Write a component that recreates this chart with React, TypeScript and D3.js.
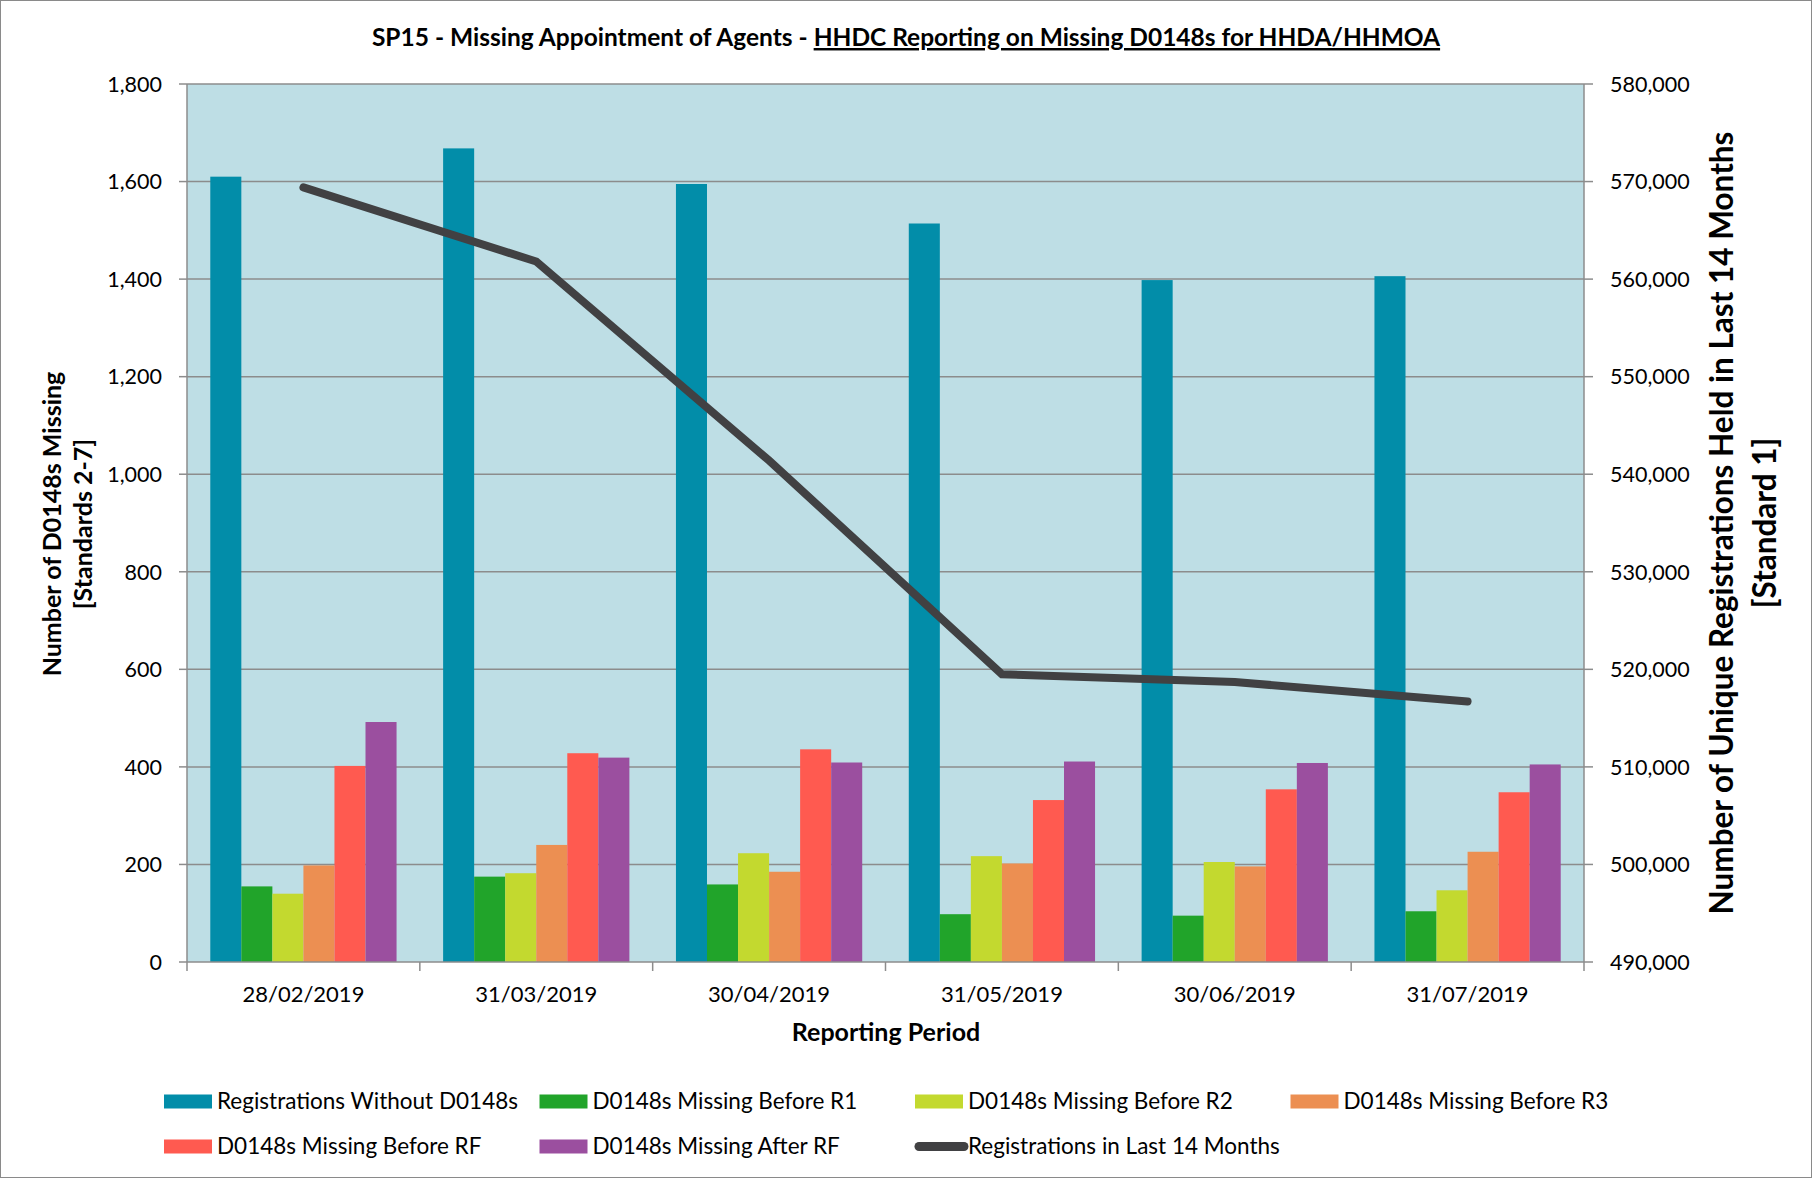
import React from 'react'
import * as d3 from 'd3'

const periods = ['28/02/2019', '31/03/2019', '30/04/2019', '31/05/2019', '30/06/2019', '31/07/2019']

const seriesNames = [
  'Registrations Without D0148s',
  'D0148s Missing Before R1',
  'D0148s Missing Before R2',
  'D0148s Missing Before R3',
  'D0148s Missing Before RF',
  'D0148s Missing After RF',
]
const seriesColors = ['#028DA9', '#21A42A', '#C3D92F', '#EC8F52', '#FF5A50', '#9B4F9F']

const withoutD0148 = [1610, 1668, 1595, 1514, 1398, 1406]
const missingR1 = [155, 175, 159, 98, 95, 104]
const missingR2 = [140, 182, 223, 217, 205, 147]
const missingR3 = [198, 240, 185, 202, 196, 226]
const missingRF = [402, 428, 436, 332, 354, 348]
const missingAfterRF = [492, 419, 409, 411, 408, 405]
const barSeries = [withoutD0148, missingR1, missingR2, missingR3, missingRF, missingAfterRF]

const lineName = 'Registrations in Last 14 Months'
const registrations14m = [569400, 561800, 541400, 519500, 518700, 516700]

const leftTicks = [0, 200, 400, 600, 800, 1000, 1200, 1400, 1600, 1800]
const rightTicks = [490000, 500000, 510000, 520000, 530000, 540000, 550000, 560000, 570000, 580000]

const W = 1812
const H = 1178
const plot = { left: 187, right: 1584, top: 84, bottom: 962 }
const fmt = d3.format(',')
const calibri = 'Lato, "Open Sans", sans-serif'

export default function App() {
  const x = d3.scaleBand<string>().domain(periods).range([plot.left, plot.right])
  // Excel gap width 150%: 6 bars + 1.5 bar-widths of gap per category
  const barW = x.bandwidth() / (barSeries.length + 1.5)
  const yL = d3.scaleLinear().domain([0, 1800]).range([plot.bottom, plot.top])
  const yR = d3.scaleLinear().domain([490000, 580000]).range([plot.bottom, plot.top])

  const line = d3
    .line<number>()
    .x((_, i) => (x(periods[i]) as number) + x.bandwidth() / 2)
    .y((v) => yR(v))

  const legendItems = [
    ...seriesNames.map((name, i) => ({ name, color: seriesColors[i], isLine: false })),
    { name: lineName, color: '#414143', isLine: true },
  ]

  return (
    <svg
      width={W}
      height={H}
      style={{ position: 'absolute', left: 0, top: 0, background: '#fff', whiteSpace: 'pre' }}
    >
      <rect x={0.5} y={0.5} width={W - 1} height={H - 1} fill="#fff" stroke="#8a8a8a" />

      <text
        x={906}
        y={46}
        textAnchor="middle"
        fontFamily={calibri}
        fontWeight="bold"
        fontSize={24.5}
        fill="#000"
      >
        <tspan>SP15 - Missing Appointment of Agents - </tspan>
        <tspan textDecoration="underline">HHDC Reporting on Missing D0148s  for HHDA/HHMOA</tspan>
      </text>

      <rect
        x={plot.left}
        y={plot.top}
        width={plot.right - plot.left}
        height={plot.bottom - plot.top}
        fill="#BEDEE5"
      />

      {leftTicks.map((t) => (
        <g key={'g' + t}>
          {t > 0 && (
            <line x1={plot.left} x2={plot.right} y1={yL(t)} y2={yL(t)} stroke="#8c8c8c" strokeWidth={1.5} />
          )}
          <line x1={plot.left - 8} x2={plot.left} y1={yL(t)} y2={yL(t)} stroke="#8c8c8c" strokeWidth={1.5} />
          <text
            x={plot.left - 25}
            y={yL(t)}
            dy="0.36em"
            textAnchor="end"
            fontFamily={calibri}
            fontSize={21.5}
            fill="#000"
          >
            {fmt(t)}
          </text>
        </g>
      ))}

      {rightTicks.map((t) => (
        <g key={'r' + t}>
          <line x1={plot.right} x2={plot.right + 9} y1={yR(t)} y2={yR(t)} stroke="#8c8c8c" strokeWidth={1.5} />
          <text
            x={plot.right + 26}
            y={yR(t)}
            dy="0.36em"
            textAnchor="start"
            fontFamily={calibri}
            fontSize={21.5}
            fill="#000"
          >
            {fmt(t)}
          </text>
        </g>
      ))}

      {barSeries.map((vals, s) =>
        vals.map((v, i) => (
          <rect
            key={`b${s}-${i}`}
            x={(x(periods[i]) as number) + barW * 0.75 + s * barW}
            y={yL(v)}
            width={barW}
            height={yL(0) - yL(v)}
            fill={seriesColors[s]}
          />
        )),
      )}

      <line x1={plot.left} x2={plot.left} y1={plot.top} y2={plot.bottom} stroke="#8c8c8c" strokeWidth={1.5} />
      <line x1={plot.right} x2={plot.right} y1={plot.top} y2={plot.bottom} stroke="#8c8c8c" strokeWidth={1.5} />
      <line x1={plot.left} x2={plot.right} y1={plot.bottom} y2={plot.bottom} stroke="#8c8c8c" strokeWidth={1.5} />

      {periods.map((p, i) => (
        <g key={p}>
          <line
            x1={x(p) as number}
            x2={x(p) as number}
            y1={plot.bottom}
            y2={plot.bottom + 9}
            stroke="#8c8c8c"
            strokeWidth={1.5}
          />
          {i === periods.length - 1 && (
            <line x1={plot.right} x2={plot.right} y1={plot.bottom} y2={plot.bottom + 9} stroke="#8c8c8c" strokeWidth={1.5} />
          )}
          <text
            x={(x(p) as number) + x.bandwidth() / 2}
            y={1002}
            textAnchor="middle"
            fontFamily={calibri}
            fontSize={22}
            fill="#000"
          >
            {p}
          </text>
        </g>
      ))}

      <path
        d={line(registrations14m) ?? ''}
        fill="none"
        stroke="#414143"
        strokeWidth={8}
        strokeLinecap="round"
        strokeLinejoin="miter"
      />

      <text
        x={886}
        y={1041}
        textAnchor="middle"
        fontFamily={calibri}
        fontWeight="bold"
        fontSize={25}
      >
        Reporting Period
      </text>

      <g transform="translate(52,524) rotate(-90)" fontFamily={calibri}>
        <text x={0} y={9} textAnchor="middle" fontWeight="bold" fontSize={25}>Number of D0148s  Missing</text>
        <text x={0} y={40} textAnchor="middle" fontWeight="bold" fontSize={25}>[Standards 2-7]</text>
      </g>

      <g transform="translate(1722,523) rotate(-90)" fontFamily={calibri}>
        <text x={0} y={11} textAnchor="middle" fontWeight="bold" fontSize={31.5}>
          Number of Unique Registrations  Held in Last 14 Months
        </text>
        <text x={0} y={54} textAnchor="middle" fontWeight="bold" fontSize={31.5}>[Standard  1]</text>
      </g>

      {legendItems.map((it, i) => {
        const col = i % 4
        const row = Math.floor(i / 4)
        const lx = 164 + col * 375.5
        const ly = 1101.5 + row * 45
        return (
          <g key={it.name}>
            {it.isLine ? (
              <line
                x1={lx + 4}
                x2={lx + 49}
                y1={ly}
                y2={ly}
                stroke={it.color}
                strokeWidth={9}
                strokeLinecap="round"
              />
            ) : (
              <rect x={lx} y={ly - 7} width={48} height={14} fill={it.color} />
            )}
            <text x={lx + 53} y={ly + 7.5} fontFamily={calibri} fontSize={22.5}>
              {it.name}
            </text>
          </g>
        )
      })}
    </svg>
  )
}
